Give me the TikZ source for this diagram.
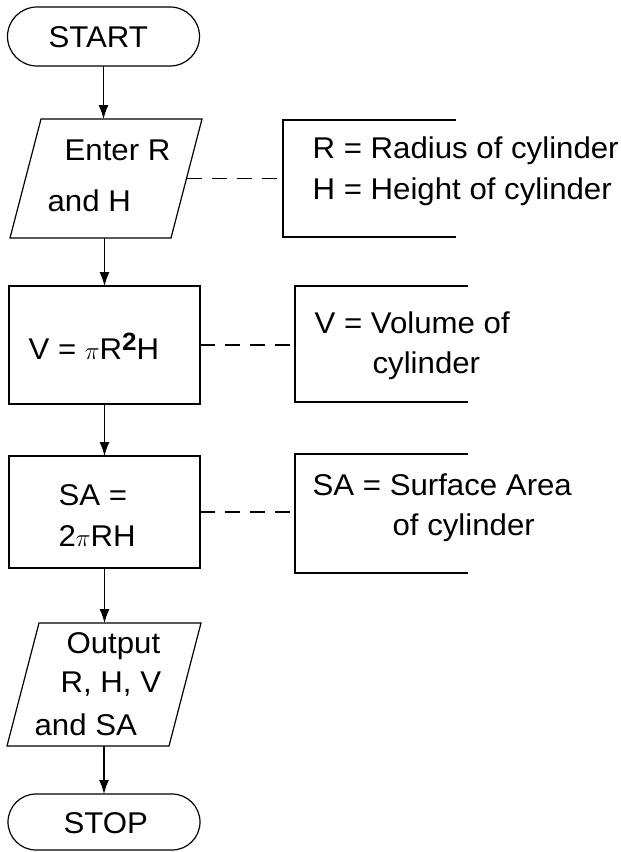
\documentclass[tikz,border=0pt]{standalone}
\usepackage{fontspec}
\setmainfont[FakeStretch=1.04]{Liberation Sans}
\usetikzlibrary{arrows.meta,shapes.misc,calc}
\begin{document}
\begin{tikzpicture}[x=1pt,y=-1pt, line width=1.2pt,
  term/.style={rounded rectangle, draw, minimum width=192pt, inner sep=0pt, outer sep=0pt},
  proc/.style={rectangle, draw, inner sep=0pt, outer sep=0pt},
  frame/.style={rectangle, inner sep=0pt, outer sep=0pt},
  txt/.style={anchor=base west, inner sep=0pt, font=\fontsize{30}{36}\selectfont},
  arr/.style={-{Latex[length=14pt,width=10pt]}},
  link/.style={dash pattern=on 15pt off 10pt}]
\fill[white] (0,0) rectangle (621,852);
\useasboundingbox (0,0) rectangle (621,852);

% flow shapes
\node[term, minimum height=59pt] (start) at (103.5,36.5) {};
\node[frame, minimum width=192pt, minimum height=119pt] (p1) at (106,178.5) {};
\draw ([xshift=31pt]p1.north west) -- (p1.north east) -- ([xshift=-31pt]p1.south east) -- (p1.south west) -- cycle;
\node[proc, minimum width=191pt, minimum height=118pt] (vol) at (104.5,345) {};
\node[proc, minimum width=191pt, minimum height=112pt] (sa) at (104.5,512) {};
\node[frame, minimum width=194pt, minimum height=123pt] (p2) at (104,684.5) {};
\draw ([xshift=32pt]p2.north west) -- (p2.north east) -- ([xshift=-32pt]p2.south east) -- (p2.south west) -- cycle;
\node[term, minimum height=56pt] (stop) at (104,822) {};

% annotation brackets
\node[frame, minimum width=173pt, minimum height=117pt] (a1) at (369.5,178.5) {};
\draw (a1.north east) -- (a1.north west) -- (a1.south west) -- (a1.south east);
\node[frame, minimum width=173pt, minimum height=116pt] (a2) at (381.5,344) {};
\draw (a2.north east) -- (a2.north west) -- (a2.south west) -- (a2.south east);
\node[frame, minimum width=173pt, minimum height=119pt] (a3) at (381.5,513.5) {};
\draw (a3.north east) -- (a3.north west) -- (a3.south west) -- (a3.south east);

% dashed links
\draw[link] ($(p1.north east)!0.5!([xshift=-31pt]p1.south east)$) -- (a1.west);
\draw[link] (vol.east) -- (vol.east -| a2.west);
\draw[link] (sa.east) -- (sa.east -| a3.west);

% arrows
\draw[arr] (start.south) -- (start.south |- p1.north);
\draw[arr] (p1.south -| vol.north) -- (vol.north);
\draw[arr] (vol.south) -- (sa.north);
\draw[arr] (sa.south) -- (sa.south |- p2.north);
\draw[arr] (p2.south -| stop.north) -- (stop.north);

% texts
\node[txt] (tstart) at (48,47) {START};
\node[txt] (tp1a) at (64,160) {Enter R};
\node[txt] (tp1b) at (47,211) {and H};
\node[txt] (ta1a) at (312,158) {R = Radius of cylinder};
\node[txt] (ta1b) at (312,199) {H = Height of cylinder};
\node[txt] (tvol) at (28,359) {V = $\pi$R\raisebox{9pt}{\fontsize{25}{25}\selectfont\bfseries 2}H};
\node[txt] (ta2a) at (314,333) {V = Volume of};
\node[txt] (ta2b) at (372,373) {cylinder};
\node[txt] (tsaa) at (58,505) {SA =};
\node[txt] (tsab) at (58,546) {2$\pi$RH};
\node[txt] (ta3a) at (312,495) {SA = Surface Area};
\node[txt] (ta3b) at (392,535) {of cylinder};
\node[txt] (tp2a) at (66,653) {Output};
\node[txt] (tp2b) at (60,692) {R, H, V};
\node[txt] (tp2c) at (34,735) {and SA};
\node[txt] (tstop) at (63,833) {STOP};
\end{tikzpicture}
\end{document}
